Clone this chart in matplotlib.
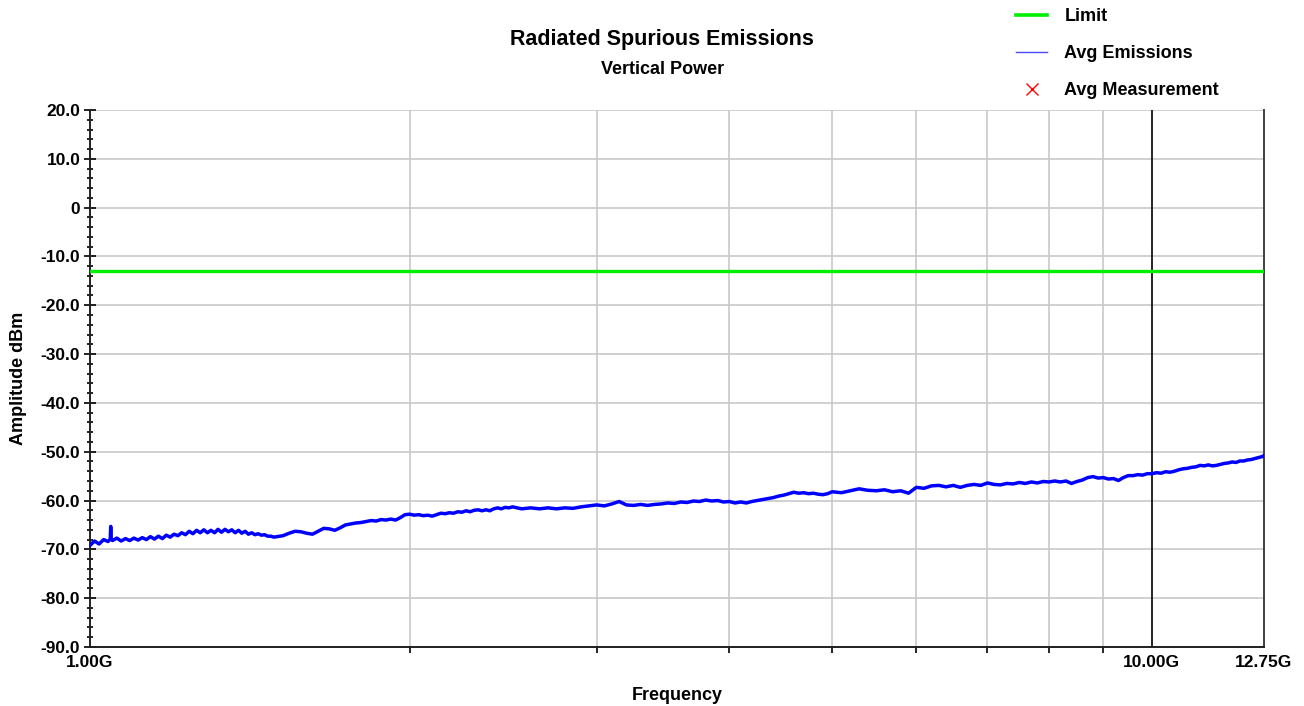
import matplotlib
matplotlib.use("Agg")
import matplotlib.pyplot as plt
from matplotlib.lines import Line2D
from matplotlib.ticker import FixedLocator, NullFormatter

plt.rcParams['font.family'] = ['Liberation Sans', 'DejaVu Sans']
plt.rcParams['font.weight'] = 'bold'

# frequences en GHz
freq = [1.00, 1.01, 1.02, 1.03, 1.04, 1.045, 1.046, 1.047, 1.05, 1.06, 1.07, 1.08, 1.09,
        1.10, 1.11, 1.12, 1.13, 1.14, 1.15, 1.16, 1.17, 1.18, 1.19,
        1.20, 1.21, 1.22, 1.23, 1.24, 1.25, 1.26, 1.27, 1.28, 1.29,
        1.30, 1.31, 1.32, 1.33, 1.34, 1.35, 1.36, 1.37, 1.38, 1.39,
        1.40, 1.41, 1.42, 1.43, 1.44, 1.45, 1.46, 1.47, 1.48, 1.49, 1.50,
        1.52, 1.54, 1.56, 1.58, 1.60, 1.62, 1.64, 1.66, 1.68, 1.70,
        1.72, 1.74, 1.76, 1.78, 1.80, 1.82, 1.84, 1.86, 1.88, 1.90,
        1.92, 1.94, 1.96, 1.98, 2.00, 2.02, 2.04, 2.06, 2.08, 2.10,
        2.12, 2.14, 2.16, 2.18, 2.20, 2.22, 2.24, 2.26, 2.28, 2.30,
        2.32, 2.34, 2.36, 2.38, 2.40, 2.42, 2.44, 2.46, 2.48, 2.50,
        2.55, 2.60, 2.65, 2.70, 2.75, 2.80, 2.85, 2.90, 2.95, 3.00,
        3.05, 3.10, 3.15, 3.20, 3.25, 3.30, 3.35, 3.40, 3.45, 3.50,
        3.55, 3.60, 3.65, 3.70, 3.75, 3.80, 3.85, 3.90, 3.95, 4.00,
        4.05, 4.10, 4.15, 4.20, 4.25, 4.30, 4.35, 4.40, 4.45, 4.50,
        4.55, 4.60, 4.65, 4.70, 4.75, 4.80, 4.85, 4.90, 4.95, 5.00,
        5.1, 5.2, 5.3, 5.4, 5.5, 5.6, 5.7, 5.8, 5.9, 6.0,
        6.1, 6.2, 6.3, 6.4, 6.5, 6.6, 6.7, 6.8, 6.9, 7.0,
        7.1, 7.2, 7.3, 7.4, 7.5, 7.6, 7.7, 7.8, 7.9, 8.0,
        8.1, 8.2, 8.3, 8.4, 8.5, 8.6, 8.7, 8.8, 8.9, 9.0,
        9.1, 9.2, 9.3, 9.4, 9.5, 9.6, 9.7, 9.8, 9.9, 10.0,
        10.1, 10.2, 10.3, 10.4, 10.5, 10.6, 10.7, 10.8, 10.9, 11.0,
        11.1, 11.2, 11.3, 11.4, 11.5, 11.6, 11.7, 11.8, 11.9, 12.0,
        12.1, 12.2, 12.3, 12.4, 12.5, 12.6, 12.7, 12.75]

# niveau moyen mesure (dBm)
avg_emis = [-69.2, -68.3, -68.9, -68.0, -68.4, -67.9, -65.3, -67.9, -68.2, -67.7, -68.3, -67.8, -68.2,
            -67.7, -68.1, -67.6, -68.0, -67.4, -67.9, -67.3, -67.8, -67.1, -67.5,
            -66.9, -67.2, -66.6, -67.0, -66.3, -66.8, -66.1, -66.6, -66.0, -66.6,
            -66.1, -66.6, -65.9, -66.5, -65.9, -66.4, -66.0, -66.6, -66.1, -66.7,
            -66.3, -66.9, -66.6, -67.0, -66.8, -67.1, -67.0, -67.3, -67.3, -67.5, -67.4,
            -67.2, -66.7, -66.3, -66.4, -66.7, -66.9, -66.3, -65.7, -65.8, -66.1,
            -65.6, -65.0, -64.8, -64.6, -64.5, -64.3, -64.1, -64.2, -63.9, -64.0,
            -63.8, -64.0, -63.5, -62.9, -62.8, -63.0, -62.9, -63.1, -63.0, -63.2,
            -62.9, -62.6, -62.7, -62.5, -62.6, -62.3, -62.4, -62.1, -62.3, -62.0,
            -61.9, -62.1, -61.9, -62.1, -61.7, -61.5, -61.7, -61.4, -61.5, -61.3,
            -61.7, -61.5, -61.7, -61.5, -61.7, -61.5, -61.6, -61.3, -61.1, -60.9,
            -61.1, -60.7, -60.2, -60.9, -61.0, -60.8, -61.0, -60.8, -60.7, -60.5,
            -60.6, -60.3, -60.4, -60.1, -60.2, -59.9, -60.1, -60.0, -60.3, -60.2,
            -60.5, -60.3, -60.5, -60.2, -60.0, -59.8, -59.6, -59.4, -59.1, -58.9,
            -58.6, -58.3, -58.5, -58.4, -58.6, -58.5, -58.7, -58.8, -58.6, -58.2,
            -58.4, -58.0, -57.6, -57.9, -58.0, -57.8, -58.2, -58.0, -58.5, -57.3,
            -57.5, -57.0, -56.9, -57.2, -56.9, -57.3, -56.9, -56.7, -56.9, -56.4,
            -56.7, -56.8, -56.5, -56.6, -56.3, -56.5, -56.2, -56.4, -56.1, -56.2,
            -56.0, -56.2, -56.0, -56.5, -56.1, -55.8, -55.3, -55.1, -55.4, -55.3,
            -55.6, -55.5, -55.9, -55.3, -54.9, -54.9, -54.7, -54.8, -54.5, -54.5,
            -54.3, -54.4, -54.1, -54.2, -54.0, -53.7, -53.5, -53.4, -53.2, -53.1,
            -52.8, -52.9, -52.7, -52.9, -52.8, -52.6, -52.4, -52.3, -52.1, -52.2,
            -51.9, -51.9, -51.7, -51.6, -51.4, -51.2, -51.0, -50.8]

limit = -13.0
f_min, f_max = 1.0, 12.75
y_ticks = [20, 10, 0, -10, -20, -30, -40, -50, -60, -70, -80, -90]
y_labels = ['20.0', '10.0', '0', '-10.0', '-20.0', '-30.0', '-40.0', '-50.0',
            '-60.0', '-70.0', '-80.0', '-90.0']
y_minor = [v for v in range(-88, 20, 2) if v % 10 != 0]
x_major = [1.0, 10.0, 12.75]
x_labels = ['1.00G', '10.00G', '12.75G']
x_grid = [2, 3, 4, 5, 6, 7, 8, 9]

fig = plt.figure(figsize=(13.04, 7.06), dpi=100)
ax = fig.add_axes([0.069, 0.0836, 0.9003, 0.7606])

ax.set_xscale('log')
ax.set_xlim(f_min, f_max)
ax.set_ylim(-90, 20)

# grille
for v in y_ticks:
    ax.axhline(v, color='#c8c8c8', lw=1.2, zorder=1)
for g in x_grid:
    ax.axvline(g, color='#c8c8c8', lw=1.2, zorder=1)
ax.axvline(10.0, color='black', lw=1.2, zorder=1)

# courbes
ax.axhline(limit, color='#00ee00', lw=2.4, zorder=3)
ax.plot(freq, avg_emis, color='#0000ff', lw=2.5, zorder=4)

# axes
ax.xaxis.set_major_locator(FixedLocator(x_major))
ax.set_xticklabels(x_labels)
ax.xaxis.set_minor_locator(FixedLocator(x_grid))
ax.xaxis.set_minor_formatter(NullFormatter())
ax.set_yticks(y_ticks)
ax.set_yticklabels(y_labels)
ax.yaxis.set_minor_locator(FixedLocator(y_minor))
ax.tick_params(axis='y', which='major', direction='inout', length=8, width=1.2,
               labelsize=12.5, pad=3)
ax.tick_params(axis='y', which='minor', direction='inout', length=5, width=1.2)
ax.tick_params(axis='x', which='major', direction='out', length=0, labelsize=12.5, pad=6)
ax.tick_params(axis='x', which='minor', direction='out', length=4, width=1.2)
for lab in ax.get_xticklabels() + ax.get_yticklabels():
    lab.set_fontweight('bold')

for s in ['left', 'bottom']:
    ax.spines[s].set_color('#202020')
    ax.spines[s].set_linewidth(1.4)
ax.spines['right'].set_color('#404040')
ax.spines['right'].set_linewidth(1.4)
ax.spines['top'].set_visible(False)

ax.set_xlabel('Frequency', fontsize=13, fontweight='bold', labelpad=12)
ax.set_ylabel('Amplitude dBm', fontsize=13, fontweight='bold', labelpad=10)

fig.text(0.508, 0.944, 'Radiated Spurious Emissions', ha='center', va='center',
         fontsize=15.5, fontweight='bold')
fig.text(0.508, 0.902, 'Vertical Power', ha='center', va='center',
         fontsize=13, fontweight='bold')

# legende
handles = [Line2D([], [], color='#00ee00', lw=2.6),
           Line2D([], [], color='#4a4aff', lw=1.0),
           Line2D([], [], color='red', marker='x', ls='none', markersize=9)]
labels = ['Limit', 'Avg Emissions', 'Avg Measurement']
fig.legend(handles, labels, loc='upper left', bbox_to_anchor=(0.772, 1.001),
           frameon=False, borderpad=0, labelspacing=1.1, handlelength=1.75,
           handletextpad=0.95, prop={'size': 13, 'weight': 'bold'})

fig.savefig('out.png', dpi=100)
